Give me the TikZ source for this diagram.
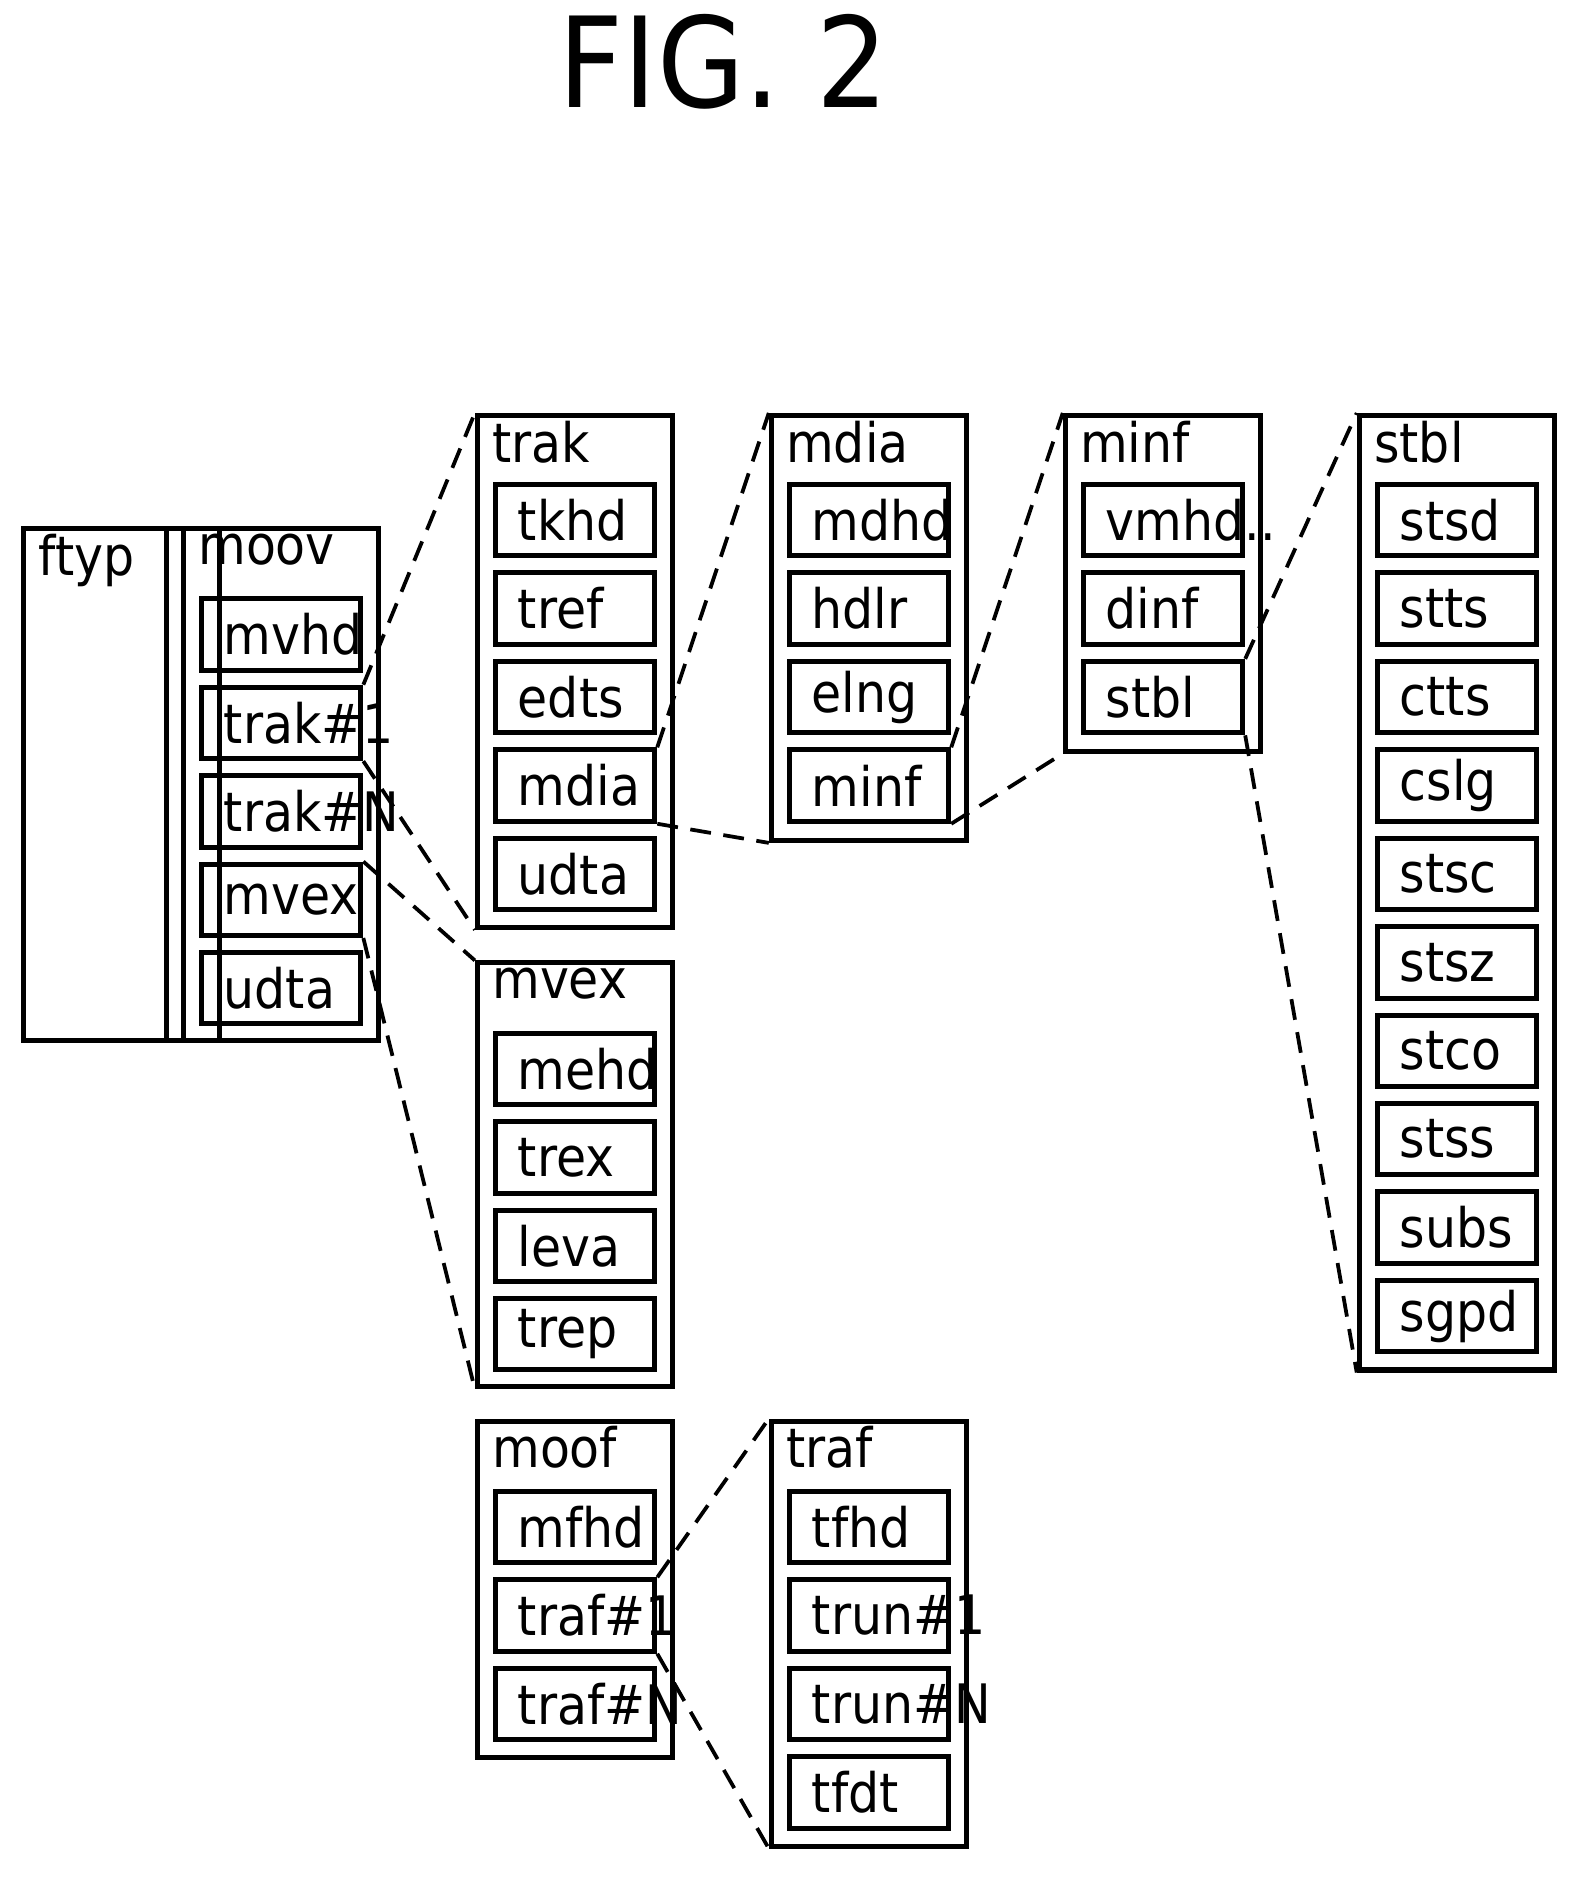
\documentclass[tikz,border=0pt]{standalone}
\usepackage{fontspec}
\setmainfont{DejaVu Sans Condensed}
\begin{document}
\begin{tikzpicture}[x=0.01cm,y=-0.01cm,
  outer/.style={draw,line width=1.2pt,minimum width=1.64cm,inner sep=0pt},
  inner/.style={draw,line width=1.2pt,minimum width=1.34cm,minimum height=0.6cm,inner xsep=0.19cm,inner ysep=0pt,text width=0.96cm,align=left,font=\fontsize{13}{13}\selectfont},
  lbl/.style={anchor=north west,font=\fontsize{13}{13}\selectfont,inner sep=0pt},
  dl/.style={dashed,line width=0.9pt,dash pattern=on 5pt off 3pt}]
\useasboundingbox (0,0) rectangle (1330,1578);
\node[font=\fontsize{30}{30}\selectfont] (title) at (608,52) {FIG. 2};
% outer boxes: name, x1, y1, y2, label
\foreach \nm/\xa/\ya/\yb/\lb in {ftyp/18/442/872/ftyp, moov/152/442/872/moov, trak/399/347/777/trak, mdia/646/347/704/mdia, minf/893/347/629/minf, stbl/1140/347/1149/stbl, mvex/399/807/1163/mvex, moof/399/1192/1475/moof, traf/646/1192/1549/traf}{
  \pgfmathsetmacro\h{(\yb-\ya)*0.01}
  \node[outer,minimum height=\h cm,anchor=north west] (\nm) at (\xa,\ya) {};
  \node[lbl] (\nm-l) at (\xa+14,\ya+6) {\lb};
}
\node[outer,minimum width=1.2cm,minimum height=4.3cm,anchor=north west] at (18,442) {};
% inner boxes
\foreach \n [count=\i from 0] in {mvhd,trak\#1,trak\#N,mvex,udta}
  \node[inner,anchor=north west] (moov\i) at (167,501+74.3*\i) {\n};
\foreach \n [count=\i from 0] in {tkhd,tref,edts,mdia,udta}
  \node[inner,anchor=north west] (trak\i) at (414,405+74.3*\i) {\n};
\foreach \n [count=\i from 0] in {mdhd,hdlr,elng,minf}
  \node[inner,anchor=north west] (mdia\i) at (661,405+74.3*\i) {\n};
\foreach \n [count=\i from 0] in {vmhd..,dinf,stbl}
  \node[inner,anchor=north west] (minf\i) at (908,405+74.3*\i) {\n};
\foreach \n [count=\i from 0] in {stsd,stts,ctts,cslg,stsc,stsz,stco,stss,subs,sgpd}
  \node[inner,anchor=north west] (stbl\i) at (1155,405+74.3*\i) {\n};
\foreach \n [count=\i from 0] in {mehd,trex,leva,trep}
  \node[inner,anchor=north west] (mvex\i) at (414,866+74.3*\i) {\n};
\foreach \n [count=\i from 0] in {mfhd,traf\#1,traf\#N}
  \node[inner,anchor=north west] (moof\i) at (414,1251+74.3*\i) {\n};
\foreach \n [count=\i from 0] in {tfhd,trun\#1,trun\#N,tfdt}
  \node[inner,anchor=north west] (traf\i) at (661,1251+74.3*\i) {\n};
% dashed connectors
\draw[dl] (moov1.north east) -- (trak.north west);
\draw[dl] (moov1.south east) -- (trak.south west);
\draw[dl] (moov3.north east) -- (mvex.north west);
\draw[dl] (moov3.south east) -- (mvex.south west);
\draw[dl] (trak3.north east) -- (mdia.north west);
\draw[dl] (trak3.south east) -- (mdia.south west);
\draw[dl] (mdia3.north east) -- (minf.north west);
\draw[dl] (mdia3.south east) -- (minf.south west);
\draw[dl] (minf2.north east) -- (stbl.north west);
\draw[dl] (minf2.south east) -- (stbl.south west);
\draw[dl] (moof1.north east) -- (traf.north west);
\draw[dl] (moof1.south east) -- (traf.south west);
\end{tikzpicture}
\end{document}
